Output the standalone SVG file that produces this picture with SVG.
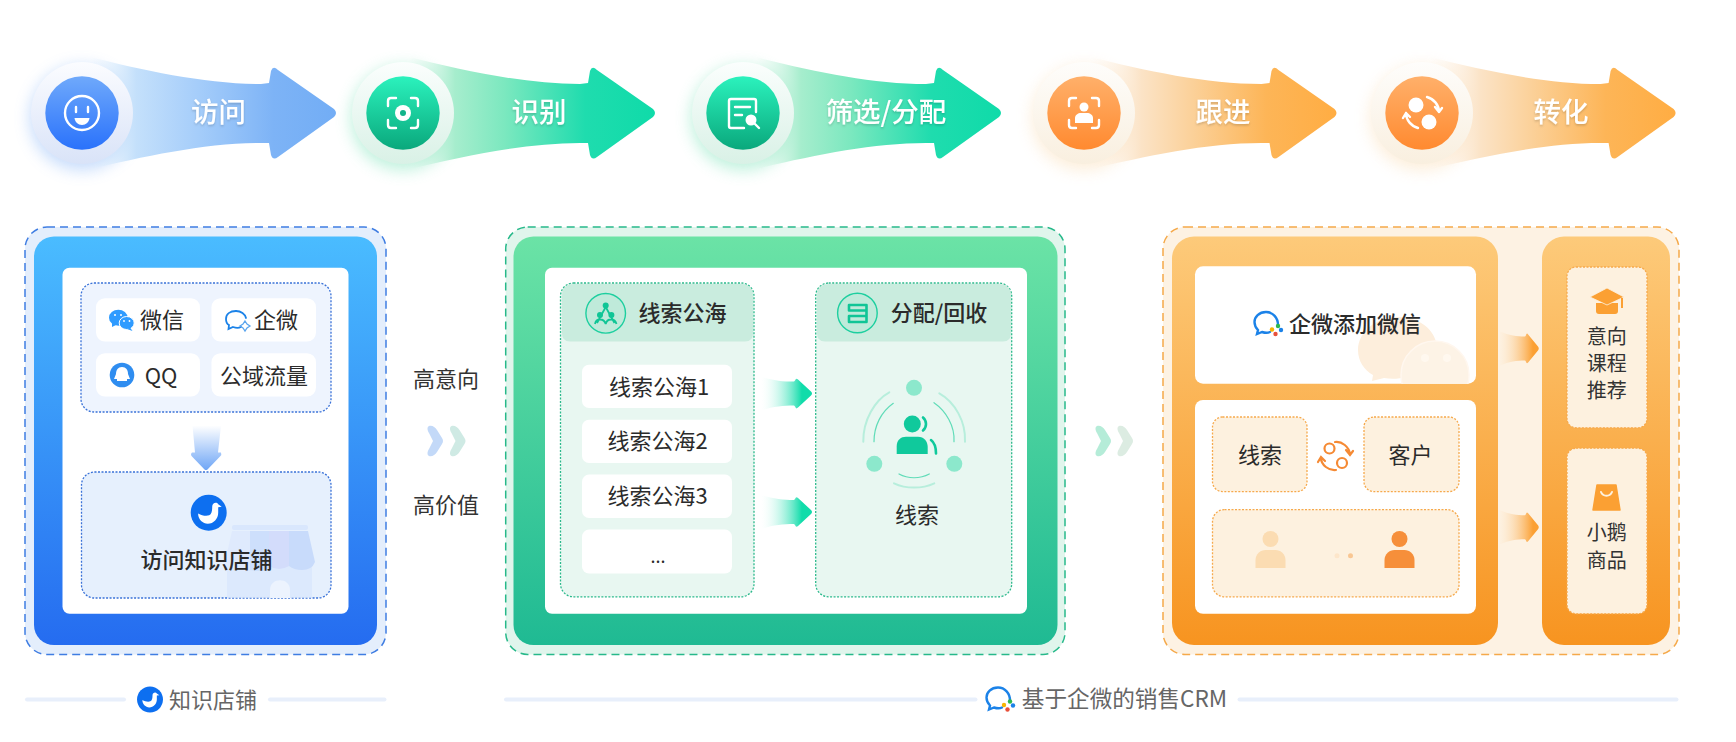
<svg xmlns="http://www.w3.org/2000/svg" width="1736" height="742" viewBox="0 0 1736 742">
<style>
text{font-family:"Noto Sans CJK SC","Noto Sans",sans-serif;dominant-baseline:central;text-anchor:middle;fill:#2b2b2b;font-size:22px}
.step{fill:#fff;font-size:27.500px;font-weight:500}
.title{font-weight:500}
.side{fill:#333;font-size:20px}
.foot{fill:#666}
.dash{stroke-width:1.5;stroke-dasharray:8 5}
.dot{stroke-width:1.3;stroke-dasharray:2 1.5}
.chip{fill:#fff}
.line{fill:#e8effb}
.wl{fill:none;stroke:#fff;stroke-width:2.4;stroke-linecap:round;stroke-linejoin:round}
.wf{fill:#fff}
.ring{fill:none;stroke:#b7eedc;stroke-width:2;stroke-linecap:round}
.ring2{fill:none;stroke:#60dcb8;stroke-width:1.2;stroke-linecap:round}
</style>
<defs>
<filter id="blur" x="-40%" y="-40%" width="180%" height="180%"><feGaussianBlur stdDeviation="8"/></filter>
<filter id="ts" x="-10%" y="-20%" width="120%" height="150%"><feDropShadow dx="0" dy="1.500" stdDeviation="1" flood-color="#000" flood-opacity="0.18"/></filter>
<linearGradient id="aB"><stop offset="0.02" stop-color="#d6eafc" stop-opacity="0"/><stop offset="0.2" stop-color="#c4e0fb"/><stop offset="0.45" stop-color="#a5cdfa"/><stop offset="0.75" stop-color="#7db3f6"/><stop offset="1" stop-color="#72adf5"/></linearGradient>
<linearGradient id="aG"><stop offset="0.02" stop-color="#c4f1dc" stop-opacity="0"/><stop offset="0.2" stop-color="#a6edcd"/><stop offset="0.4" stop-color="#7be8bf"/><stop offset="0.72" stop-color="#1fdcae"/><stop offset="1" stop-color="#0fdba9"/></linearGradient>
<linearGradient id="aO"><stop offset="0.02" stop-color="#fdeedd" stop-opacity="0"/><stop offset="0.22" stop-color="#fbe3c6"/><stop offset="0.42" stop-color="#fbd19a"/><stop offset="0.72" stop-color="#fdb557"/><stop offset="1" stop-color="#ffad43"/></linearGradient>
<linearGradient id="cB" x2="0" y2="1"><stop offset="0" stop-color="#6fa9fb"/><stop offset="1" stop-color="#2a72fb"/></linearGradient>
<linearGradient id="cG" x2="0" y2="1"><stop offset="0" stop-color="#2bf2bd"/><stop offset="1" stop-color="#0aa87c"/></linearGradient>
<linearGradient id="cO" x2="0" y2="1"><stop offset="0" stop-color="#ffb06a"/><stop offset="1" stop-color="#ff8a30"/></linearGradient>
<linearGradient id="hB" x2="0" y2="1"><stop offset="0" stop-color="#fbfcff"/><stop offset="1" stop-color="#d9e3f8"/></linearGradient>
<linearGradient id="hG" x2="0" y2="1"><stop offset="0" stop-color="#fbfefd"/><stop offset="1" stop-color="#d9f1e6"/></linearGradient>
<linearGradient id="hO" x2="0" y2="1"><stop offset="0" stop-color="#fefdfb"/><stop offset="1" stop-color="#f9efdf"/></linearGradient>
<linearGradient id="pB" x2="0" y2="1"><stop offset="0" stop-color="#4abcff"/><stop offset="1" stop-color="#256cf0"/></linearGradient>
<linearGradient id="pG" x2="0" y2="1"><stop offset="0" stop-color="#6be3a6"/><stop offset="1" stop-color="#1fba93"/></linearGradient>
<linearGradient id="pO" x2="0" y2="1"><stop offset="0" stop-color="#fdca7a"/><stop offset="1" stop-color="#f79420"/></linearGradient>
<linearGradient id="dB" x2="0" y2="1"><stop offset="0" stop-color="#fff"/><stop offset="1" stop-color="#6fa6f6"/></linearGradient>
<linearGradient id="rG"><stop offset="0" stop-color="#fff" stop-opacity="0.1"/><stop offset="0.8" stop-color="#10dcaa"/></linearGradient>
<linearGradient id="rO"><stop offset="0" stop-color="#fde4c2" stop-opacity="0.1"/><stop offset="0.85" stop-color="#fba033"/></linearGradient>
<path id="arrowShape" d="M-250-57C-190-42-130-29-75-29L-67-30-65-42Q-63-48-58-43L-2-4Q2 0-2 4L-58 44Q-63 48-65 42L-67 30-75 30C-130 30-190 43-250 57Z"/>
<path id="miniArrow" d="M0-17C12-13 22-12 33-12L34-13Q35-16 37-14L50-2Q52 0 50 2L37 14Q35 16 34 13L33 12C22 12 12 13 0 17Z"/>
<g id="goose"><circle r="18" fill="#0d6ff0"/><path d="M-10.500.7C-7 3-2 3.500.5 2.500 3 1.500 3.500-2 3.500-6 3.500-10 8-11 9.500-8.500L13-6 9.500-5.500V0C9.500 6 5 11-1 11-6 11-11 6-10.500.7Z" fill="#fff"/></g>
<g id="wecom"><path d="M11 1C11-6 6-12-1-12-8-12-12.500-7-12.500-2-12.500 1-11 4-9 6L-10 10-5 8C-2 9 1 9 3 8" fill="none" stroke="#1b82e8" stroke-width="2.400" stroke-linecap="round"/><circle cx="5" cy="5.500" r="2.200" fill="#f7b500"/><circle cx="11" cy="2" r="2.200" fill="#2db84d"/><circle cx="14" cy="6" r="2.200" fill="#1b82e8"/><circle cx="8.500" cy="10" r="2.200" fill="#e8503a"/></g>
<g id="person"><circle cy="-15" r="8"/><path d="M-15 14V6C-15 0-10-4-5-4H5C10-4 15 0 15 6V14Z"/></g>
<path id="chev" d="M2 0C5-1 8 1 10 4L15 12Q17 15 15 18L10 26C8 29 5 31 2 30 0 29 0 26 2 23L6 15 2 7C0 4 0 1 2 0Z"/>
<clipPath id="topClip"><rect x="1195" y="266.300" width="281" height="117.400" rx="8"/></clipPath>
<clipPath id="storeClip"><rect x="81.500" y="472" width="249.500" height="126" rx="13"/></clipPath>
</defs>

<rect width="1736" height="742" fill="#fff"/>

<g id="step-visit">
<circle cx="82" cy="118" r="52" fill="#6fa6f6" opacity="0.4" filter="url(#blur)"/>
<use href="#arrowShape" x="336" y="113" fill="url(#aB)"/>
<circle cx="82" cy="113" r="51" fill="url(#hB)"/>
<circle cx="82" cy="113" r="36.700" fill="url(#cB)"/>
<circle class="wl" cx="82" cy="113" r="17"/>
<path class="wl" d="M76 107V112M88 107V112"/>
<path class="wf" d="M74.500 118H89.500C89 122 86 125 82 125S75 122 74.500 118Z"/>
<text class="step" x="218.500" y="110" filter="url(#ts)">访问</text>
</g>

<g id="step-identify">
<circle cx="403" cy="118" r="52" fill="#5bdca8" opacity="0.4" filter="url(#blur)"/>
<use href="#arrowShape" x="655" y="113" fill="url(#aG)"/>
<circle cx="403" cy="113" r="51" fill="url(#hG)"/>
<circle cx="403" cy="113" r="36.700" fill="url(#cG)"/>
<path class="wl" d="M388 106V101Q388 98 391 98H396M411 98H415Q418 98 418 101V106M418 120V125Q418 128 415 128H411M396 128H391Q388 128 388 125V120"/>
<circle class="wf" cx="403" cy="113" r="8"/><circle cx="403" cy="113" r="3" fill="#12b48a"/>
<text class="step" x="539" y="110" filter="url(#ts)">识别</text>
</g>

<g id="step-filter">
<circle cx="743" cy="118" r="52" fill="#5bdca8" opacity="0.4" filter="url(#blur)"/>
<use href="#arrowShape" x="1001" y="113" fill="url(#aG)"/>
<circle cx="743" cy="113" r="51" fill="url(#hG)"/>
<circle cx="743" cy="113" r="36.700" fill="url(#cG)"/>
<path class="wl" d="M756 112V101Q756 99 754 99H731Q729 99 729 101V126Q729 128 731 128H744M735 107H750M735 115H742"/>
<circle class="wf" cx="751" cy="120" r="5.500"/><path class="wl" d="M755 124L759 128"/>
<text class="step" x="886" y="110" filter="url(#ts)">筛选/分配</text>
</g>

<g id="step-follow">
<circle cx="1084" cy="118" r="52" fill="#f8cf95" opacity="0.35" filter="url(#blur)"/>
<use href="#arrowShape" x="1336.500" y="113" fill="url(#aO)"/>
<circle cx="1084" cy="113" r="51" fill="url(#hO)"/>
<circle cx="1084" cy="113" r="36.700" fill="url(#cO)"/>
<path class="wl" d="M1069 106V101Q1069 98 1072 98H1076M1092 98H1096Q1099 98 1099 101V106M1099 120V125Q1099 128 1096 128H1092M1076 128H1072Q1069 128 1069 125V120"/>
<circle class="wf" cx="1084" cy="107" r="4.500"/><path class="wf" d="M1075 123V118C1075 115 1078 113 1081 113H1087C1090 113 1093 115 1093 118V123Z"/>
<text class="step" x="1223" y="110" filter="url(#ts)">跟进</text>
</g>

<g id="step-convert">
<circle cx="1422" cy="118" r="52" fill="#f8cf95" opacity="0.35" filter="url(#blur)"/>
<use href="#arrowShape" x="1675.600" y="113" fill="url(#aO)"/>
<circle cx="1422" cy="113" r="51" fill="url(#hO)"/>
<circle cx="1422" cy="113" r="36.700" fill="url(#cO)"/>
<circle class="wf" cx="1416" cy="105" r="7.500"/><circle class="wf" cx="1429" cy="122" r="7.500"/>
<path class="wl" stroke-width="2" d="M1427 97C1434 99 1439 105 1439 112M1435 107L1439 112 1442 108M1418 128C1411 126 1406 120 1406 113M1403 118L1406 113 1410 117"/>
<text class="step" x="1561" y="110" filter="url(#ts)">转化</text>
</g>

<g id="panel-shop">
<rect x="25" y="227" width="361" height="427.500" rx="22" fill="#e4eefc" stroke="#3f7de2" class="dash"/>
<rect x="34" y="236.500" width="343" height="408.500" rx="20" fill="url(#pB)"/>
<rect x="62.500" y="267.700" width="286" height="346" rx="7" fill="#fff"/>
<g id="sources">
<rect x="81" y="283" width="250" height="129" rx="13" fill="#eef4fe" stroke="#3a72d8" class="dot"/>
<rect class="chip" x="96" y="298.200" width="104" height="43.400" rx="9"/>
<rect class="chip" x="211.500" y="298.200" width="104.500" height="43.400" rx="9"/>
<rect class="chip" x="96" y="353.200" width="104" height="43.400" rx="9"/>
<rect class="chip" x="211.500" y="353.200" width="104.500" height="43.400" rx="9"/>
<ellipse cx="118.300" cy="317.700" rx="9.300" ry="8" fill="#2f9bff"/><path d="M112 322L112 327 118 324Z" fill="#2f9bff"/>
<circle cx="115" cy="315" r="1" fill="#fff"/><circle cx="121" cy="315" r="1" fill="#fff"/>
<ellipse cx="126.700" cy="323" rx="7.500" ry="6.500" fill="#2f9bff" stroke="#fff"/><path d="M130 327.500L132.500 331 127 329Z" fill="#2f9bff"/>
<circle cx="124" cy="321" r="0.900" fill="#fff"/><circle cx="129.500" cy="321" r="0.900" fill="#fff"/>
<text x="162" y="318">微信</text>
<path d="M236 311C230 311 226 314 226 319 226 322 227 324 229 325L228.500 329 233 327C236 328 239 328 241 327" fill="none" stroke="#1b82e8" stroke-width="1.800" stroke-linecap="round"/><path d="M236 311C241 311 245 314 246 318" fill="none" stroke="#1b82e8" stroke-width="1.800" stroke-linecap="round"/>
<path d="M245 321L247 324 250 326 247 328 245 331 243 328 240 326 243 324Z" fill="none" stroke="#5aa5ee" stroke-width="1.300"/>
<text x="276" y="318">企微</text>
<circle cx="122" cy="375" r="12.300" fill="#2f8df0"/><path d="M122 367C118 367 116 370 116 374L114 379 117 379 117 381 127 381 127 379 130 379 128 374C128 370 126 367 122 367Z" fill="#fff"/>
<text x="161" y="373.500">QQ</text>
<text x="264" y="373.500">公域流量</text>
</g>
<g id="shop">
<rect x="81.500" y="472" width="249.500" height="126" rx="13" fill="#e6f0fd" stroke="#3a72d8" class="dot"/>
<g clip-path="url(#storeClip)">
<rect x="227" y="560" width="85" height="38" fill="#d7e5fc" opacity="0.7"/>
<rect x="232" y="525" width="76" height="5" rx="2" fill="#d3e2fc" opacity="0.7"/>
<path d="M232 531H250V570Q240 572 232 570 226 568 225 562Z" fill="#dfeafd"/>
<path d="M250 531H269V570Q259 572 250 570Z" fill="#cddffc"/>
<path d="M269 531H289V566Q279 572 269 566Z" fill="#d3dcfb"/>
<path d="M289 531H308L315 562Q312 570 302 570 294 570 289 566Z" fill="#c8dbfb"/>
<path d="M270 598V590C270 577 290 577 290 590V598Z" fill="#ecf3fe"/>
</g>
<use href="#goose" x="208.700" y="512.700"/>
<text class="title" x="206.500" y="558">访问知识店铺</text>
</g>
</g>

<g id="label-intent">
<text x="446" y="376.500" style="fill:#333">高意向</text>
<text x="446" y="503" style="fill:#333">高价值</text>
</g>

<g id="panel-leads">
<rect x="505.700" y="227" width="559.300" height="427.500" rx="22" fill="#e0f5ec" stroke="#27b98a" class="dash"/>
<rect x="513.500" y="236.500" width="544" height="408.500" rx="20" fill="url(#pG)"/>
<rect x="545" y="267.700" width="482" height="346" rx="7" fill="#fff"/>
<g id="pool">
<rect x="560.500" y="283" width="193.500" height="313.800" rx="13" fill="#e8f7f1" stroke="#2cb98c" class="dot"/>
<path d="M562 333V296Q562 284 574 284H741Q753 284 753 296V333Q753 341.600 745 341.600H570Q562 341.600 562 333Z" fill="#c9ecde"/>
<circle cx="605.700" cy="313.300" r="19.800" fill="#bfeada" stroke="#1dcf9f" stroke-width="1.400"/>
<g fill="#10c596"><circle cx="605.700" cy="305.500" r="3"/><circle cx="600" cy="315" r="3"/><circle cx="611.400" cy="315" r="3"/></g>
<path d="M605.700 307L597 323M605.700 307L614.500 323M595 324C596 318 604 318 605.700 324 607 318 615 318 616.500 324" fill="none" stroke="#10c596" stroke-width="1.800"/>
<text class="title" x="682.500" y="311">线索公海</text>
<rect class="chip" x="582" y="364.700" width="150" height="43.400" rx="7"/>
<rect class="chip" x="582" y="419.700" width="150" height="43.400" rx="7"/>
<rect class="chip" x="582" y="474.600" width="150" height="43.500" rx="7"/>
<rect class="chip" x="582" y="529.600" width="150" height="44" rx="7"/>
<text x="659" y="384.500">线索公海1</text>
<text x="657.500" y="439">线索公海2</text>
<text x="657.500" y="494">线索公海3</text>
<text x="658" y="555" style="font-size:18px">...</text>
</g>
<g id="assign">
<rect x="815.700" y="283" width="196" height="313.800" rx="13" fill="#e8f7f1" stroke="#2cb98c" class="dot"/>
<path d="M817 333V296Q817 284 829 284H999Q1011 284 1011 296V333Q1011 341.600 1003 341.600H825Q817 341.600 817 333Z" fill="#c9ecde"/>
<circle cx="857.400" cy="313" r="19.800" fill="#bfeada" stroke="#1dcf9f" stroke-width="1.400"/>
<path d="M849 305H866.500V310.500H849ZM866.500 310.500V316H849V322H866.500V316" fill="none" stroke="#10c596" stroke-width="2.600" stroke-linejoin="round"/>
<text class="title" x="939" y="311">分配/回收</text>
<circle cx="914" cy="387.800" r="8" fill="#8ce8cc"/><circle cx="874.300" cy="463.800" r="8" fill="#8ce8cc"/><circle cx="954.300" cy="463.800" r="8" fill="#8ce8cc"/>
<path class="ring" d="M889.300 392.300C875 400 863 420 863.300 441.700M939.300 393.300C955 402 966 422 965 441.700M894 483.300C906 489 922 489 934.300 483.300"/>
<path class="ring2" d="M893.300 403.300C881 412 874 426 874 441.700M934 402.700C946 411 955 426 954 441.700M899 474C908 479 920 479 929.300 474"/>
<circle cx="912.300" cy="424" r="8.500" fill="#10c99c"/>
<path d="M896.700 454V446C896.700 440 901 436.700 906 436.700H918C924 436.700 927.700 441 927.700 447V454Z" fill="#10c99c"/>
<path d="M923 417.500C927 421 927 427 923 430.500M931 440C935 443 936 448 936 453.500" fill="none" stroke="#10c99c" stroke-width="2.600" stroke-linecap="round"/>
<text x="917" y="512.500">线索</text>
</g>
</g>

<g id="panel-crm">
<rect x="1163" y="227" width="516" height="427.500" rx="22" fill="#fdf2e3" stroke="#f5a94a" class="dash"/>
<g id="wecom-block">
<rect x="1172" y="236.500" width="326" height="408.500" rx="22" fill="url(#pO)"/>
<rect x="1195" y="266.300" width="281" height="117.400" rx="8" fill="#fff"/>
<g clip-path="url(#topClip)">
<path d="M1398 317C1376 317 1358 332 1358 350 1358 361 1364 370 1373 375L1372 381 1384 378C1395 380 1410 378 1418 372 1430 364 1437 354 1437 346 1435 330 1420 317 1398 317Z" fill="#fdeedc"/>
<circle cx="1435" cy="375" r="34" fill="#fdf3e6" stroke="#fff7ef" stroke-width="1.500"/>
<circle cx="1425" cy="358" r="4" fill="#fff8ef"/><circle cx="1447" cy="358" r="4" fill="#fff8ef"/>
</g>
<use href="#wecom" x="1267" y="324"/>
<text class="title" x="1355" y="322">企微添加微信</text>
<rect x="1195" y="400" width="281" height="213.800" rx="8" fill="#fff"/>
<rect x="1212.500" y="417" width="94.500" height="74.600" rx="10" fill="#fdf1df" stroke="#f6a94c" class="dot"/>
<rect x="1364" y="417" width="95" height="74.600" rx="10" fill="#fdf1df" stroke="#f6a94c" class="dot"/>
<rect x="1212.500" y="509.600" width="246.500" height="87.200" rx="12" fill="#fdf1df" stroke="#f6a94c" class="dot"/>
<text x="1260" y="453">线索</text>
<text x="1410.500" y="453">客户</text>
<g fill="none" stroke="#f58a34" stroke-width="2.200" stroke-linecap="round">
<circle cx="1329.500" cy="448.500" r="5"/><circle cx="1342" cy="463" r="5"/>
<path d="M1335 442C1342 441 1349 447 1350 454M1346 450L1350 455 1353 451M1336 470C1329 471 1321 465 1321 458M1318 462L1321 457 1325 461"/>
</g>
<use href="#person" x="1270.500" y="554" fill="#fbdcb2"/>
<use href="#person" x="1399.500" y="554" fill="#f68f3a"/>
<circle cx="1337" cy="555.700" r="2.500" fill="#fde6ca"/><circle cx="1350.500" cy="555.700" r="2.500" fill="#f9c793"/>
</g>
<g id="reco-block">
<rect x="1542" y="236.500" width="128" height="408.500" rx="22" fill="url(#pO)"/>
<rect x="1567" y="267" width="80" height="160.800" rx="9" fill="#fdf1df" stroke="#f6a94c" class="dot"/>
<rect x="1567" y="448.200" width="80" height="165.600" rx="9" fill="#fdf1df" stroke="#f6a94c" class="dot"/>
<path d="M1596 303H1618V311Q1618 314 1615 314H1599Q1596 314 1596 311Z" fill="#fba033"/>
<path d="M1607 288L1624 297 1607 305 1590 297Z" fill="#fba033" stroke="#fdf1df" stroke-width="0.800"/>
<path d="M1622 298V308" stroke="#fba033" stroke-width="2"/>
<text class="side" x="1606.700" y="335">意向</text>
<text class="side" x="1606.700" y="362.500">课程</text>
<text class="side" x="1606.700" y="389.500">推荐</text>
<path d="M1597 485H1616L1620 510H1593Z" fill="#fba033" stroke="#fba033" stroke-width="1.500" stroke-linejoin="round"/>
<path d="M1601 492C1603 497 1610 497 1612 492" fill="none" stroke="#fdf1df" stroke-width="2" stroke-linecap="round"/>
<text class="side" x="1606.700" y="531.500">小鹅</text>
<text class="side" x="1606.700" y="559">商品</text>
</g>
</g>

<g id="connectors">
<path d="M192.500 425.500H221L218 452.500H221Q222 454.500 220 456.500L207.500 469.500Q206 470.600 204.500 469.500L192 456.500Q190 454.500 192 452.500H195Z" fill="url(#dB)"/>
<use href="#chev" x="427" y="426" fill="#c3d9f8"/>
<use href="#chev" x="449.500" y="426" fill="#cfeae4"/>
<use href="#chev" x="1095" y="426" fill="#b5ecd8"/>
<use href="#chev" x="1117" y="426" fill="#dcece2"/>
<use href="#miniArrow" x="761" y="393.600" fill="url(#rG)"/>
<use href="#miniArrow" x="761" y="512" fill="url(#rG)"/>
<use href="#miniArrow" transform="translate(1500 348.400) scale(0.76 1)" fill="url(#rO)"/>
<use href="#miniArrow" transform="translate(1500 527.200) scale(0.76 1)" fill="url(#rO)"/>
</g>

<g id="footer-shop">
<rect class="line" x="25" y="697.500" width="101" height="4" rx="2"/>
<use href="#goose" transform="translate(150 699.500) scale(0.72)"/>
<text class="foot" x="213" y="697.500">知识店铺</text>
<rect class="line" x="268" y="697.500" width="118.500" height="4" rx="2"/>
</g>
<g id="footer-crm">
<rect class="line" x="504" y="697.500" width="473.500" height="4" rx="2"/>
<use href="#wecom" x="999" y="699.500"/>
<text class="foot" x="1124.500" y="697.500" style="font-size:22.600px">基于企微的销售CRM</text>
<rect class="line" x="1237.500" y="697.500" width="441" height="4" rx="2"/>
</g>
</svg>
